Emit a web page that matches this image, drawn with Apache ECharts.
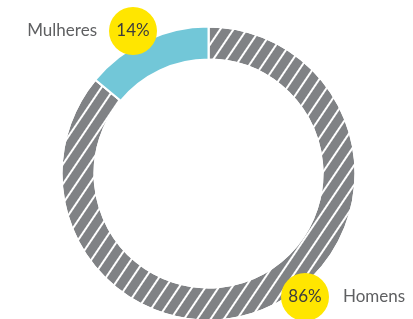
<!DOCTYPE html>
<html>
<head>
<meta charset="utf-8">
<script src="https://cdn.jsdelivr.net/npm/echarts@6/dist/echarts.min.js"></script>
<style>
html,body{margin:0;padding:0;background:#fff;}
#chart{width:413px;height:319px;}
</style>
</head>
<body>
<div id="chart"></div>
<script>
var categories = ['Homens', 'Mulheres'];
var values = [86, 14];
var pctLabels = ['86%', '14%'];

var chart = echarts.init(document.getElementById('chart'), null, {renderer: 'canvas'});

var stripeDecal = {
  symbol: 'rect',
  symbolSize: 1,
  color: '#ffffff',
  dashArrayX: [[10, 0]],
  dashArrayY: [2, 8.5],
  rotation: -Math.PI * 56 / 180
};

var itemStyles = [
  {color: '#808285', decal: stripeDecal, borderColor: '#fff', borderWidth: 2},
  {color: '#72c7d8', borderColor: '#fff', borderWidth: 2}
];

var richStyle = {
  name: {fontFamily: 'Lato', fontSize: 17, color: '#5f6062'},
  gapL: {width: 12},
  gapR: {width: 14},
  pct: {
    fontFamily: 'Lato', fontSize: 17, color: '#3d3d3d',
    backgroundColor: '#ffe600', width: 48, height: 48, lineHeight: 48,
    borderRadius: 24, align: 'center'
  }
};

var data = categories.map(function (c, i) {
  return {
    name: c,
    value: values[i],
    itemStyle: itemStyles[i],
    label: {
      formatter: i === 0
        ? '{pct|' + pctLabels[i] + '}{gapR|}{name|' + c + '}'
        : '{name|' + c + '}{gapL|}{pct|' + pctLabels[i] + '}',
      rich: richStyle
    }
  };
});

var labelAnchors = [
  {x: 281, y: 297, align: 'left'},
  {x: 157, y: 31, align: 'right'}
];

chart.setOption({
  aria: {enabled: false},
  animation: false,
  series: [{
    type: 'pie',
    center: [208.5, 173.5],
    radius: [114, 147],
    startAngle: 90,
    clockwise: true,
    silent: true,
    avoidLabelOverlap: false,
    label: {show: true, position: 'outside', overflow: 'none', alignTo: 'none'},
    labelLine: {show: false},
    labelLayout: function (params) {
      var a = labelAnchors[params.dataIndex];
      return {x: a.x, y: a.y, align: a.align, verticalAlign: 'middle'};
    },
    data: data
  }]
});
</script>
</body>
</html>
